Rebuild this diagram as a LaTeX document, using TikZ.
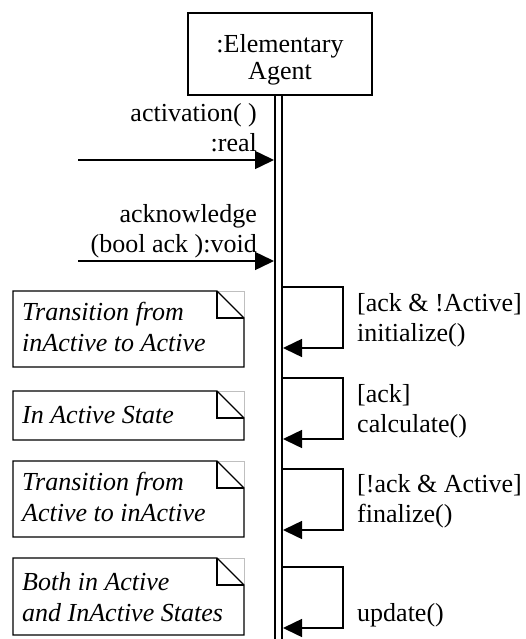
\documentclass[tikz,border=0pt]{standalone}
\usepackage{fontspec}
\setmainfont{Liberation Serif}
\usetikzlibrary{arrows.meta}

% UML note with folded corner: #1 node name, #2 top, #3 bottom, #4 last baseline, #5 text
\newcommand\drawnote[5]{%
  \draw[notegray] (217,#2) -- (244,#2) -- (244,#2+27);
  \draw[noteline] (13,#2) -- (217,#2) -- (244,#2+27) -- (244,#3) -- (13,#3) -- cycle;
  \draw[noteline] (217,#2) -- (217,#2+27) -- (244,#2+27);
  \node[notetext, anchor=base west] (#1) at (22,#4) {#5};
}

\tikzset{
  lbl/.style={font=\fontsize{26}{30}\selectfont, inner sep=0pt},
  notetext/.style={lbl, font=\fontsize{26}{31}\selectfont\itshape, align=left},
  objbox/.style={draw, line width=1.6pt, minimum width=184pt, minimum height=82pt, inner sep=0pt},
  lifeline/.style={line width=1.8pt},
  msg/.style={line width=1.5pt, -{Triangle[length=19pt, width=18pt]}},
  noteline/.style={line width=1.3pt, line join=miter},
  notegray/.style={line width=0.8pt, black!25},
}

\begin{document}
\begin{tikzpicture}[x=1pt, y=-1pt]
\useasboundingbox (0,0) rectangle (525,639);

% object head and its lifeline
\node[objbox] (agent) at (280,54) {};
\node[lbl, font=\fontsize{26}{27}\selectfont, align=center, anchor=base] (agentname) at (280,80) {:Elementary\\Agent};
\coordinate (llAtop) at (275,95);
\coordinate (llAbot) at (275,639);
\coordinate (llBtop) at (282,95);
\coordinate (llBbot) at (282,639);
\draw[lifeline] (llAtop) -- (llAbot);
\draw[lifeline] (llBtop) -- (llBbot);

% incoming messages
\coordinate (m1s) at (78,160);
\coordinate (m1e) at (274,160);
\draw[msg] (m1s) -- (m1e);
\node[lbl, align=right, anchor=base east] (m1lbl) at (257,152) {activation( )\\:real};

\coordinate (m2s) at (78,261);
\coordinate (m2e) at (274,261);
\draw[msg] (m2s) -- (m2e);
\node[lbl, align=right, anchor=base east] (m2lbl) at (257,252) {acknowledge\\(bool ack ):void};

% self calls
\foreach \top/\bot/\nm in {287/348/s1, 378/439/s2, 469/530/s3, 567/628/s4} {
  \coordinate (\nm a) at (282,\top);
  \coordinate (\nm b) at (343,\top);
  \coordinate (\nm c) at (343,\bot);
  \coordinate (\nm d) at (283,\bot);
  \draw[msg] (\nm a) -- (\nm b) -- (\nm c) -- (\nm d);
}
\node[lbl, align=left, anchor=base west] (s1lbl) at (357,341) {[ack \& !Active]\\initialize()};
\node[lbl, align=left, anchor=base west] (s2lbl) at (357,432) {[ack]\\calculate()};
\node[lbl, align=left, anchor=base west] (s3lbl) at (357,522) {[!ack \& Active]\\finalize()};
\node[lbl, align=left, anchor=base west] (s4lbl) at (357,621) {update()};

% notes
\drawnote{n1}{291}{367}{351}{Transition from\\inActive to Active}
\drawnote{n2}{391}{440}{423}{In Active State}
\drawnote{n3}{461}{537}{521}{Transition from\\Active to inActive}
\drawnote{n4}{558}{635}{621}{Both in Active\\and InActive States}
\end{tikzpicture}
\end{document}
